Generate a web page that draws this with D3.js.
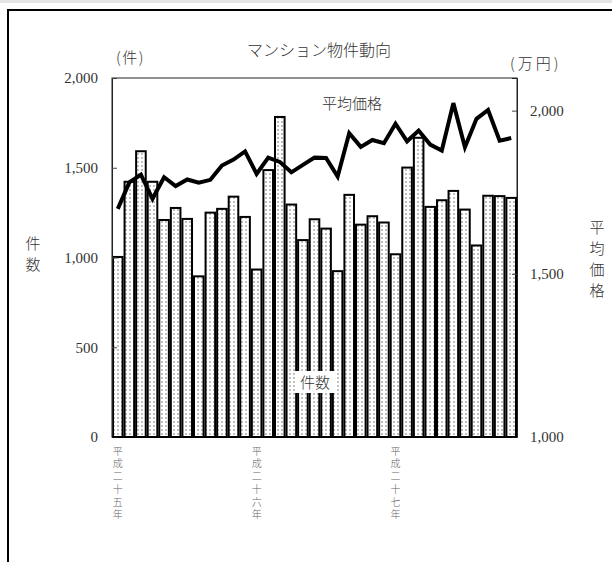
<!DOCTYPE html>
<html>
<head>
<meta charset="utf-8">
<script src="https://cdn.jsdelivr.net/npm/d3@7"></script>
<style>
  body { margin: 0; background: #fff; }
  svg text { font-family: "Liberation Serif", "DejaVu Serif", "Noto Sans CJK JP", serif !important; }
  svg text.jp { font-family: "Noto Sans CJK JP", sans-serif !important; font-weight: 300; }
</style>
</head>
<body>
<div id="chart"></div>
<script>
// monthly periods, H25.1 - H27.11
const months = d3.range(35).map(i => "m" + i);
// year labels placed at first month of each year
const yearLabels = [
  { index: 0, text: "平成二十五年" },
  { index: 12, text: "平成二十六年" },
  { index: 24, text: "平成二十七年" }
];
// 件数
const counts = [1003, 1422, 1592, 1422, 1209, 1276, 1215, 895, 1250, 1271, 1339, 1226,
                933, 1487, 1783, 1295, 1097, 1213, 1161, 924, 1349, 1183, 1230, 1195,
                1018, 1501, 1667, 1282, 1319, 1371, 1267, 1067, 1344, 1342, 1332];
// 平均価格 (万円)
const prices = [1699, 1780, 1804, 1730, 1796, 1769, 1789, 1779, 1788, 1832, 1850, 1875,
                1806, 1856, 1843, 1811, 1834, 1856, 1855, 1798, 1931, 1889, 1910, 1900,
                1960, 1906, 1939, 1896, 1878, 2023, 1888, 1975, 2002, 1908, 1916];
const leftTicks = [0, 500, 1000, 1500, 2000];
const rightTicks = [1000, 1500, 2000];

const w = 612, h = 562;
const plotL = 112, plotR = 517, plotT = 78, plotB = 437;

const svg = d3.select("#chart").append("svg")
  .attr("width", w)
  .attr("height", h);

// dotted fill for bars
const defs = svg.append("defs");
const pat = defs.append("pattern")
  .attr("id", "dots")
  .attr("patternUnits", "userSpaceOnUse")
  .attr("width", 4)
  .attr("height", 4);
pat.append("rect").attr("width", 4).attr("height", 4).attr("fill", "#fff");
pat.append("circle").attr("cx", 2).attr("cy", 2).attr("r", 0.7).attr("fill", "#555");

// light strip at the very top and the outer frame
svg.append("rect").attr("x", 0).attr("y", 0).attr("width", w).attr("height", 3).attr("fill", "#e4e4e4");
svg.append("rect")
  .attr("x", 8).attr("y", 10)
  .attr("width", 620).attr("height", 600)
  .attr("fill", "none")
  .attr("stroke", "#000")
  .attr("stroke-width", 2);

const xScale = d3.scaleBand()
  .domain(months)
  .range([plotL, plotR])
  .paddingInner(0.17)
  .paddingOuter(0.085);

const yLeft = d3.scaleLinear().domain([0, 2000]).range([plotB, plotT]);
const yRight = d3.scaleLinear().domain([1000, 2100]).range([plotB, plotT]);

// plot area border
svg.append("rect")
  .attr("x", plotL).attr("y", plotT)
  .attr("width", plotR - plotL).attr("height", plotB - plotT)
  .attr("fill", "#fff")
  .attr("stroke", "#222")
  .attr("stroke-width", 1);

// bars
svg.selectAll(".bar")
  .data(counts)
  .enter()
  .append("rect")
  .attr("class", "bar")
  .attr("x", (d, i) => xScale(months[i]))
  .attr("y", d => yLeft(d))
  .attr("width", xScale.bandwidth())
  .attr("height", d => yLeft(0) - yLeft(d))
  .attr("fill", "url(#dots)")
  .attr("stroke", "#000")
  .attr("stroke-width", 2);

// axes
const axL = svg.append("g")
  .attr("transform", `translate(${plotL}, 0)`)
  .call(d3.axisLeft(yLeft).tickValues(leftTicks).tickSize(-5).tickPadding(14).tickFormat(d3.format(",")));
const axR = svg.append("g")
  .attr("transform", `translate(${plotR}, 0)`)
  .call(d3.axisRight(yRight).tickValues(rightTicks).tickSize(-5).tickPadding(13).tickFormat(d3.format(",")));
[axL, axR].forEach(ax => {
  ax.attr("font-family", null);
  ax.select(".domain").attr("stroke", "#222");
  ax.selectAll(".tick line").attr("stroke", "#444");
  ax.selectAll("text").attr("font-size", "15px").attr("fill", "#333");
});

// baseline
svg.append("line")
  .attr("x1", plotL).attr("x2", plotR)
  .attr("y1", plotB).attr("y2", plotB)
  .attr("stroke", "#000").attr("stroke-width", 1.5);

// price line
const line = d3.line()
  .x((d, i) => xScale(months[i]) + xScale.bandwidth() / 2)
  .y(d => yRight(d));
svg.append("path")
  .datum(prices)
  .attr("d", line)
  .attr("fill", "none")
  .attr("stroke", "#000")
  .attr("stroke-width", 4)
  .attr("stroke-linejoin", "miter");

// x labels: vertical text
svg.selectAll(".year")
  .data(yearLabels)
  .enter()
  .append("text")
  .attr("class", "jp year")
  .attr("x", d => xScale(months[d.index]) + xScale.bandwidth() / 2)
  .attr("y", 446)
  .attr("writing-mode", "vertical-rl")
  .attr("letter-spacing", "2.7px")
  .attr("font-size", "10px")
  .attr("fill", "#666")
  .text(d => d.text);

// titles
svg.append("text")
  .attr("class", "jp")
  .attr("x", 319).attr("y", 56)
  .attr("text-anchor", "middle")
  .attr("font-size", "16px")
  .attr("fill", "#333")
  .text("マンション物件動向");
svg.append("text")
  .attr("class", "jp")
  .attr("x", 116).attr("y", 63)
  .attr("letter-spacing", "1.5px")
  .attr("font-size", "15px").attr("fill", "#333")
  .text("(件)");
svg.append("text")
  .attr("class", "jp")
  .attr("x", 510).attr("y", 69)
  .attr("letter-spacing", "3px")
  .attr("font-size", "15px").attr("fill", "#333")
  .text("(万円)");

// vertical axis titles
svg.append("text")
  .attr("class", "jp")
  .attr("x", 33).attr("y", 236)
  .attr("writing-mode", "vertical-rl")
  .attr("letter-spacing", "6px")
  .attr("font-size", "15px").attr("fill", "#333")
  .text("件数");
svg.append("text")
  .attr("class", "jp")
  .attr("x", 597).attr("y", 220)
  .attr("writing-mode", "vertical-rl")
  .attr("letter-spacing", "6px")
  .attr("font-size", "15px").attr("fill", "#333")
  .text("平均価格");

// series labels in the plot
svg.append("text")
  .attr("class", "jp")
  .attr("x", 352).attr("y", 109)
  .attr("text-anchor", "middle")
  .attr("font-size", "15px").attr("fill", "#333")
  .text("平均価格");
svg.append("rect")
  .attr("x", 295).attr("y", 371)
  .attr("width", 40).attr("height", 22)
  .attr("fill", "#fff");
svg.append("text")
  .attr("class", "jp")
  .attr("x", 315).attr("y", 388)
  .attr("text-anchor", "middle")
  .attr("font-size", "15px").attr("fill", "#333")
  .text("件数");
</script>
</body>
</html>
